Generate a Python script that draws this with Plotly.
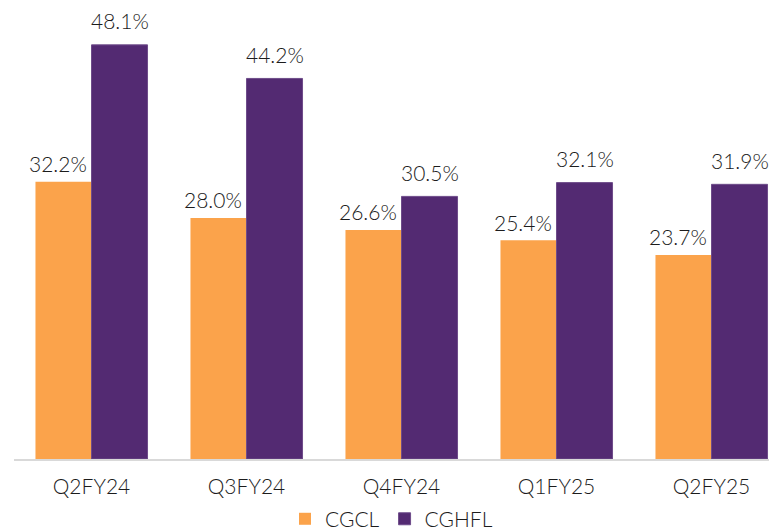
import plotly.graph_objects as go

# Quarterly values for the two entities (percent)
quarters = ["Q2FY24", "Q3FY24", "Q4FY24", "Q1FY25", "Q2FY25"]
cgcl = [32.2, 28.0, 26.6, 25.4, 23.7]
cghfl = [48.1, 44.2, 30.5, 32.1, 31.9]

ORANGE = "#FBA34B"
PURPLE = "#532A72"
FONT = "Lato"
TEXT = "#1c1c1c"
FS = 21

fig = go.Figure()
fig.add_trace(go.Bar(name="CGCL", x=quarters, y=cgcl, marker_color=ORANGE,
                     marker_line_width=0))
fig.add_trace(go.Bar(name="CGHFL", x=quarters, y=cghfl, marker_color=PURPLE,
                     marker_line=dict(color="#6E4C8A", width=1)))

# Value labels above each bar
bar_px = 56
for q, v in zip(quarters, cgcl):
    fig.add_annotation(x=q, y=v, text=f"{v:.1f}%", showarrow=False,
                       xshift=-bar_px / 2 - 6, yshift=18, yanchor="middle",
                       font=dict(family=FONT, size=FS, color=TEXT, weight=300))
for q, v in zip(quarters, cghfl):
    fig.add_annotation(x=q, y=v, text=f"{v:.1f}%", showarrow=False,
                       xshift=bar_px / 2, yshift=24, yanchor="middle",
                       font=dict(family=FONT, size=FS, color=TEXT, weight=300))

fig.update_layout(
    width=769, height=530,
    margin=dict(l=14, r=0, t=0, b=71, autoexpand=False),
    paper_bgcolor="white", plot_bgcolor="white",
    barmode="group", bargap=0.277, bargroupgap=0,
    font=dict(family=FONT, size=FS, color=TEXT, weight=300),
    showlegend=True,
    legend=dict(orientation="h", x=0.50, xanchor="center", y=-0.131,
                yanchor="middle",
                font=dict(family=FONT, size=FS, color=TEXT, weight=300),
                itemwidth=30, tracegroupgap=0),
    xaxis=dict(range=[-0.5, -0.5 + 755 / 155], showgrid=False,
               showline=True, linecolor="#D9D9D9", linewidth=2,
               ticks="outside", ticklen=8, tickcolor="rgba(0,0,0,0)",
               tickfont=dict(family=FONT, size=FS, color=TEXT, weight=300),
               automargin=False),
    yaxis=dict(range=[0, 459 / 8.61], visible=False, showgrid=False),
)

fig.write_html("out.html")
